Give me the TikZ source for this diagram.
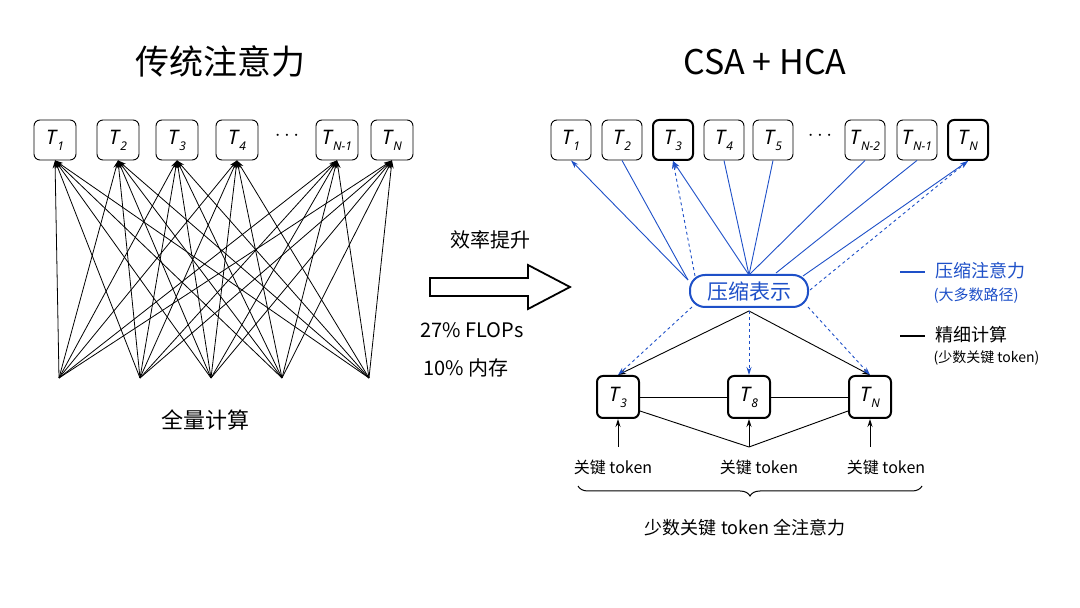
\documentclass[tikz,border=0pt]{standalone}
\usepackage{fontspec}
\setmainfont{Noto Sans}
\newfontfamily\cjk{Noto Sans CJK SC}
\usetikzlibrary{arrows.meta,decorations.pathreplacing}
\newcommand{\tk}[1]{\textit{T}\kern-0.5pt\raisebox{-0.55ex}{\fontsize{12}{14}\selectfont\textit{#1}}}
\newcommand{\fs}[1]{\fontsize{#1}{#1}\selectfont}
\definecolor{bl}{RGB}{30,80,200}
\begin{document}
\begin{tikzpicture}[x=1pt,y=1pt,
  tok/.style={draw,rounded corners=6pt,minimum width=40pt,minimum height=40pt,line width=0.9pt,font=\fs{20},inner sep=1pt},
  tokb/.style={tok,line width=2pt},
  ar/.style={-{Stealth[length=8pt,width=5pt]}},
  bla/.style={bl,line width=0.9pt},
  ln/.style={line width=0.9pt}]
\useasboundingbox (0,0) rectangle (1080,608);
\fill[white] (0,0) rectangle (1080,608);
% titles
\node[font=\cjk\fs{34}] (t1) at (220,546) {传统注意力};
\node[font=\cjk\fs{34}] (t2) at (765,546) {CSA + HCA};
% left
\foreach \n/\x/\s in {a/55/1,b/118/2,c/177/3,d/237/4,e/337/{N-1},f/392/N}
  \node[tok,minimum width=42pt] (L\n) at (\x,468) {\tk{\s}};
\node[font=\fs{22}] (ldots) at (287,472) {$\cdots$};
\foreach \i/\x in {1/59,2/140,3/211,4/282,5/369}
  \coordinate (B\i) at (\x,230);
\foreach \i in {1,...,5}
  \foreach \n in {a,b,c,d,e,f}
    \draw[ar,line width=0.8pt] (B\i) -- (L\n.south);
\node[font=\cjk\fs{22}] (full) at (205,188) {全量计算};
% middle arrow
\draw[line width=1.8pt,line join=miter] (430,330) -- (528,330) -- (528,343) -- (570,321) -- (528,299) -- (528,312) -- (430,312) -- cycle;
\node[font=\cjk\fs{20}] (eff) at (490,368) {效率提升};
\node[font=\cjk\fs{20}] (fl) at (472,278) {27\% FLOPs};
\node[font=\cjk\fs{20}] (mem) at (466,240) {10\% 内存};
% right top
\foreach \n/\x/\s/\st in {a/571/1/tok,b/622/2/tok,c/673/3/tokb,d/724/4/tok,e/773/5/tok,g/865/{N-2}/tok,h/917/{N-1}/tok,i/968/N/tokb}
  \node[\st] (R\n) at (\x,468) {\tk{\s}};
\node[font=\fs{22}] (rdots) at (820,472) {$\cdots$};
% compressed
\node[draw=bl,line width=2pt,rounded corners=15pt,minimum width=118pt,minimum height=32pt,text=bl,font=\cjk\fs{21}] (C) at (749,317) {压缩表示};
\coordinate (c1) at (688,328);
\coordinate (c2) at (695,332);
\coordinate (ct) at (749,333);
\coordinate (c3) at (776,335);
\coordinate (c4) at (803,332);
\coordinate (c5) at (810,318);
\draw[bla,ar] (c1) -- (Ra.south);
\draw[bla] (c1) -- (Rb.south);
\draw[bla,dashed,ar] (c2) -- (Rc.south);
\draw[bla,ar] (ct) -- (Rc.south);
\draw[bla] (ct) -- (Rd.south);
\draw[bla] (ct) -- (Re.south);
\draw[bla] (ct) -- (Rg.south);
\draw[bla] (c3) -- (Rh.south);
\draw[bla,ar] (c4) -- (Ri.south);
\draw[bla,dashed,ar] (c5) -- (Ri.south);
% lower
\node[tokb,minimum width=42pt,minimum height=42pt] (K3) at (618,211) {\tk{3}};
\node[tokb,minimum width=42pt,minimum height=42pt] (K8) at (749,211) {\tk{8}};
\node[tokb,minimum width=42pt,minimum height=42pt] (KN) at (870,211) {\tk{N}};
\coordinate (cb) at (749,297);
\draw[ln,ar] (cb) -- (K3.north);
\draw[ln,ar] (cb) -- (KN.north);
\coordinate (cl) at (692,301);
\coordinate (cr) at (808,301);
\draw[bla,dashed,ar] (cl) -- (K3.north);
\draw[bla,dashed,ar] (cb) -- (K8.north);
\draw[bla,dashed,ar] (cr) -- (KN.north);
\draw[ln] (K3.east) -- (K8.west);
\draw[ln] (K8.east) -- (KN.west);
\coordinate (m) at (749,161);
\draw[ln] ([yshift=8pt]K3.south east) -- (m) -- ([yshift=8pt]KN.south west);
\coordinate (u1) at (618,161);
\coordinate (u3) at (870,161);
\draw[ln,ar] (u1) -- (K3.south);
\draw[ln,ar] (m) -- (K8.south);
\draw[ln,ar] (u3) -- (KN.south);
\node[font=\cjk\fs{16}] (k1) at (613,141) {关键 token};
\node[font=\cjk\fs{16}] (k2) at (759,141) {关键 token};
\node[font=\cjk\fs{16}] (k3) at (886,141) {关键 token};
\draw[decorate,decoration={brace,mirror,amplitude=10pt},line width=1pt] (578,122) -- (922,122);
\node[font=\cjk\fs{18}] (br) at (745,80) {少数关键 token 全注意力};
% legend
\coordinate (lb1) at (900,336); \coordinate (lb2) at (925,336);
\draw[bla,line width=1.2pt] (lb1) -- (lb2);
\node[font=\cjk\fs{18},text=bl,anchor=west] (lg1) at (932,337) {压缩注意力};
\node[font=\cjk\fs{15},text=bl,anchor=west] (lg2) at (930,312) {(大多数路径)};
\coordinate (lk1) at (900,272); \coordinate (lk2) at (925,272);
\draw[line width=1.2pt] (lk1) -- (lk2);
\node[font=\cjk\fs{18},anchor=west] (lg3) at (932,273) {精细计算};
\node[font=\cjk\fs{14},anchor=west] (lg4) at (930,250) {(少数关键 token)};
\end{tikzpicture}
\end{document}
